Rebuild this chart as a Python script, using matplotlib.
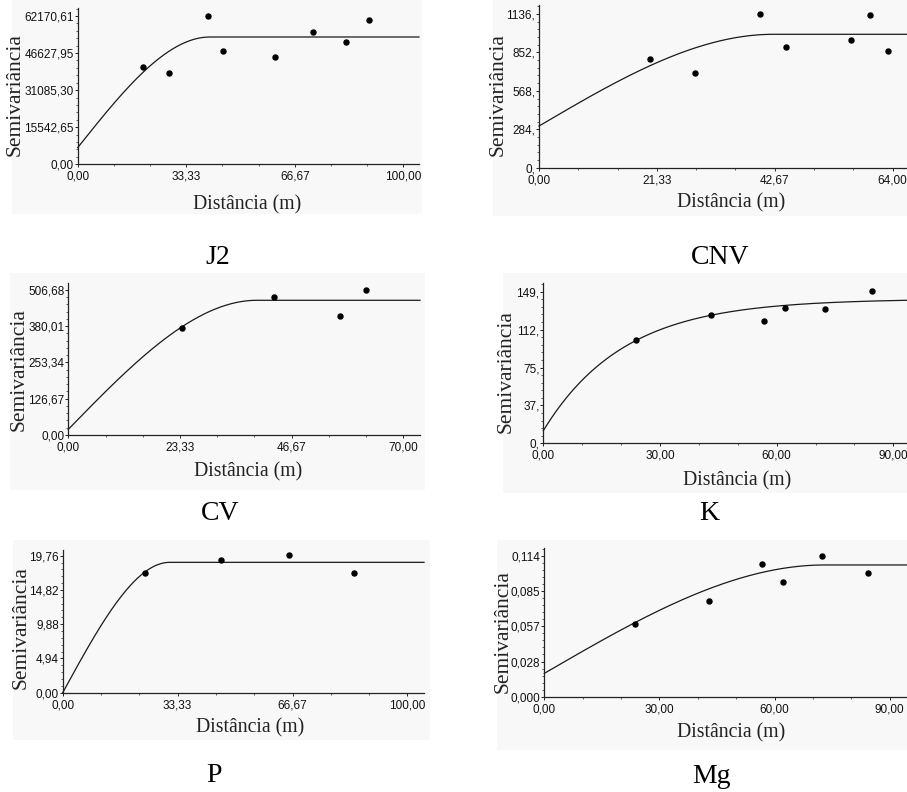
import numpy as np
import matplotlib
matplotlib.use("Agg")
import matplotlib.pyplot as plt
from matplotlib.ticker import FixedLocator, MultipleLocator
from matplotlib.patches import Rectangle

# ---------------- data ----------------
j2_dist = [19.96, 28.15, 40.02, 44.73, 60.70, 72.16, 82.29, 89.46]
j2_semi = [40935, 38141, 62170, 47502, 45127, 55465, 51413, 60494]
j2_model = ("spherical", 6985, 53370, 40.6)  # nugget, sill, range
j2_xticks = [0, 33.33, 66.67, 100.0]
j2_xlabels = ["0,00", "33,33", "66,67", "100,00"]
j2_yticks = [0, 15542.65, 31085.30, 46627.95, 62170.61]
j2_ylabels = ["0,00", "15542,65", "31085,30", "46627,95", "62170,61"]

cnv_dist = [20.08, 28.29, 39.93, 44.63, 56.39, 59.83, 63.08]
cnv_semi = [803, 697, 1136, 894, 941, 1126, 865]
cnv_model = ("spherical", 308, 986, 42.4)
cnv_xticks = [0, 21.33, 42.67, 64.0]
cnv_xlabels = ["0,00", "21,33", "42,67", "64,00"]
cnv_yticks = [0, 284, 568, 852, 1136]
cnv_ylabels = ["0,", "284,", "568,", "852,", "1136,"]

cv_dist = [23.75, 42.97, 56.70, 62.13]
cv_semi = [372.7, 482.2, 415.8, 506.7]
cv_model = ("spherical", 19.8, 470.6, 39.4)
cv_xticks = [0, 23.33, 46.67, 70.0]
cv_xlabels = ["0,00", "23,33", "46,67", "70,00"]
cv_yticks = [0, 126.67, 253.34, 380.01, 506.68]
cv_ylabels = ["0,00", "126,67", "253,34", "380,01", "506,68"]

k_dist = [23.9, 43.2, 56.7, 62.2, 72.3, 84.5]
k_semi = [101.5, 126.1, 120.2, 132.6, 131.6, 149.7]
k_model = ("exponential", 12.4, 142.0, 62.0)
k_xticks = [0, 30.0, 60.0, 90.0]
k_xlabels = ["0,00", "30,00", "60,00", "90,00"]
k_yticks = [0, 37.25, 74.5, 111.75, 149.0]
k_ylabels = ["0,", "37,", "75,", "112,", "149,"]

p_dist = [23.8, 45.8, 65.6, 84.6]
p_semi = [17.21, 19.09, 19.90, 17.21]
p_model = ("spherical", 0.0, 18.80, 31.0)
p_xticks = [0, 33.33, 66.67, 100.0]
p_xlabels = ["0,00", "33,33", "66,67", "100,00"]
p_yticks = [0, 4.94, 9.88, 14.82, 19.76]
p_ylabels = ["0,00", "4,94", "9,88", "14,82", "19,76"]

mg_dist = [23.7, 43.0, 56.8, 62.2, 72.3, 84.4]
mg_semi = [0.0592, 0.0778, 0.1072, 0.0932, 0.1143, 0.1002]
mg_model = ("spherical", 0.0189, 0.1067, 73.0)
mg_xticks = [0, 30.0, 60.0, 90.0]
mg_xlabels = ["0,00", "30,00", "60,00", "90,00"]
mg_yticks = [0, 0.0285, 0.057, 0.0855, 0.114]
mg_ylabels = ["0,000", "0,028", "0,057", "0,085", "0,114"]

captions = ["J2", "CNV", "CV", "K", "P", "Mg"]
xlabel_text = "Distância (m)"
ylabel_text = "Semivariância"


def model_curve(model, h):
    kind, c0, sill, a = model
    h = np.asarray(h, dtype=float)
    if kind == "spherical":
        r = np.clip(h / a, 0, 1)
        return c0 + (sill - c0) * (1.5 * r - 0.5 * r ** 3)
    return c0 + (sill - c0) * (1 - np.exp(-3 * h / a))


# ---------------- layout (pixels) ----------------
W, H = 907, 792
fig = plt.figure(figsize=(W / 100, H / 100), dpi=100)

panels = [
    dict(dist=j2_dist, semi=j2_semi, model=j2_model, xt=j2_xticks, xl=j2_xlabels, yt=j2_yticks, yl=j2_ylabels,
         rect=(77.7, 419, 164.3, 8.3), xmax=104.8, ymax=65398, xminor=100 / 9, ystep=62170.61 / 20,
         bg=(12, 422, 0, 214), ylab=(25, 94.5), xlab=(247, 209), cap=(218, 264)),
    dict(dist=cnv_dist, semi=cnv_semi, model=cnv_model, xt=cnv_xticks, xl=cnv_xlabels, yt=cnv_yticks, yl=cnv_ylabels,
         rect=(539, 907, 167.7, 5.0), xmax=66.6, ymax=1202.5, xminor=64 / 9, ystep=1136 / 20,
         bg=(493, 907, 0, 216), ylab=(508, 94.5), xlab=(731, 207), cap=(720, 264)),
    dict(dist=cv_dist, semi=cv_semi, model=cv_model, xt=cv_xticks, xl=cv_xlabels, yt=cv_yticks, yl=cv_ylabels,
         rect=(68.3, 420, 435, 283), xmax=73.5, ymax=531, xminor=70 / 9, ystep=506.68 / 20,
         bg=(10, 425, 273, 490), ylab=(29, 370), xlab=(248, 476.7), cap=(220, 520)),
    dict(dist=k_dist, semi=k_semi, model=k_model, xt=k_xticks, xl=k_xlabels, yt=k_yticks, yl=k_ylabels,
         rect=(543.3, 907, 443.3, 283.3), xmax=93.5, ymax=157.3, xminor=10, ystep=149 / 20,
         bg=(503, 907, 273, 493), ylab=(516, 371.5), xlab=(737, 485), cap=(709, 520)),
    dict(dist=p_dist, semi=p_semi, model=p_model, xt=p_xticks, xl=p_xlabels, yt=p_yticks, yl=p_ylabels,
         rect=(62.7, 424, 692.7, 550), xmax=104.8, ymax=20.58, xminor=100 / 9, ystep=19.76 / 20,
         bg=(13, 430, 540, 740), ylab=(31, 628), xlab=(250, 732), cap=(214, 782)),
    dict(dist=mg_dist, semi=mg_semi, model=mg_model, xt=mg_xticks, xl=mg_xlabels, yt=mg_yticks, yl=mg_ylabels,
         rect=(544.3, 907, 696.7, 548.3), xmax=94.5, ymax=0.1202, xminor=10, ystep=0.114 / 20,
         bg=(497, 907, 540, 750), ylab=(513, 632), xlab=(731, 737), cap=(711, 783)),
]

serif = ["Liberation Serif", "DejaVu Serif"]
sans = ["Liberation Sans", "DejaVu Sans"]

for i, p in enumerate(panels):
    bx0, bx1, by0, by1 = p["bg"]
    fig.patches.append(Rectangle((bx0 / W, 1 - by1 / H), (bx1 - bx0) / W, (by1 - by0) / H,
                                 transform=fig.transFigure, facecolor="#f8f8f8",
                                 edgecolor="none", zorder=-5))

    l, r, b, t = p["rect"]
    ax = fig.add_axes([l / W, 1 - b / H, (r - l) / W, (b - t) / H])
    ax.set_zorder(2)
    ax.set_facecolor("none")
    ax.set_xlim(0, p["xmax"])
    ax.set_ylim(0, p["ymax"])
    for s in ("top", "right"):
        ax.spines[s].set_visible(False)
    for s in ("left", "bottom"):
        ax.spines[s].set_color("#222222")
        ax.spines[s].set_linewidth(0.9)

    hh = np.linspace(0, p["xmax"], 400)
    ax.plot(hh, model_curve(p["model"], hh), color="#1a1a1a", lw=0.9, clip_on=False)
    ax.plot(p["dist"], p["semi"], "o", color="black", ms=3.6, clip_on=False)

    ax.xaxis.set_major_locator(FixedLocator(p["xt"]))
    ax.set_xticklabels(p["xl"], fontfamily=sans, fontsize=8.5)
    ax.yaxis.set_major_locator(FixedLocator(p["yt"]))
    ax.set_yticklabels(p["yl"], fontfamily=sans, fontsize=8.5)
    ax.xaxis.set_minor_locator(MultipleLocator(p["xminor"]))
    ax.yaxis.set_minor_locator(MultipleLocator(p["ystep"]))
    ax.tick_params(axis="both", which="major", direction="out", length=2.2, width=0.7,
                   color="#222222", labelcolor="#111111")
    ax.tick_params(axis="both", which="minor", direction="out", length=1.6, width=0.6,
                   color="#444444")
    ax.tick_params(axis="x", which="major", pad=2.4)
    ax.tick_params(axis="y", which="major", pad=0.6)

    yx, yy = p["ylab"]
    fig.text(yx / W, 1 - yy / H, ylabel_text, rotation=90, rotation_mode="anchor",
             ha="center", va="bottom", fontfamily=serif, fontsize=15.5, color="#222222")
    xx, xy = p["xlab"]
    fig.text(xx / W, 1 - xy / H, xlabel_text, ha="center", va="baseline",
             fontfamily=serif, fontsize=14.2, color="#222222")
    cx, cy = p["cap"]
    fig.text(cx / W, 1 - cy / H, captions[i], ha="center", va="baseline",
             fontfamily=serif, fontsize=20, color="black")

fig.savefig("out.png", dpi=100, facecolor="white")
